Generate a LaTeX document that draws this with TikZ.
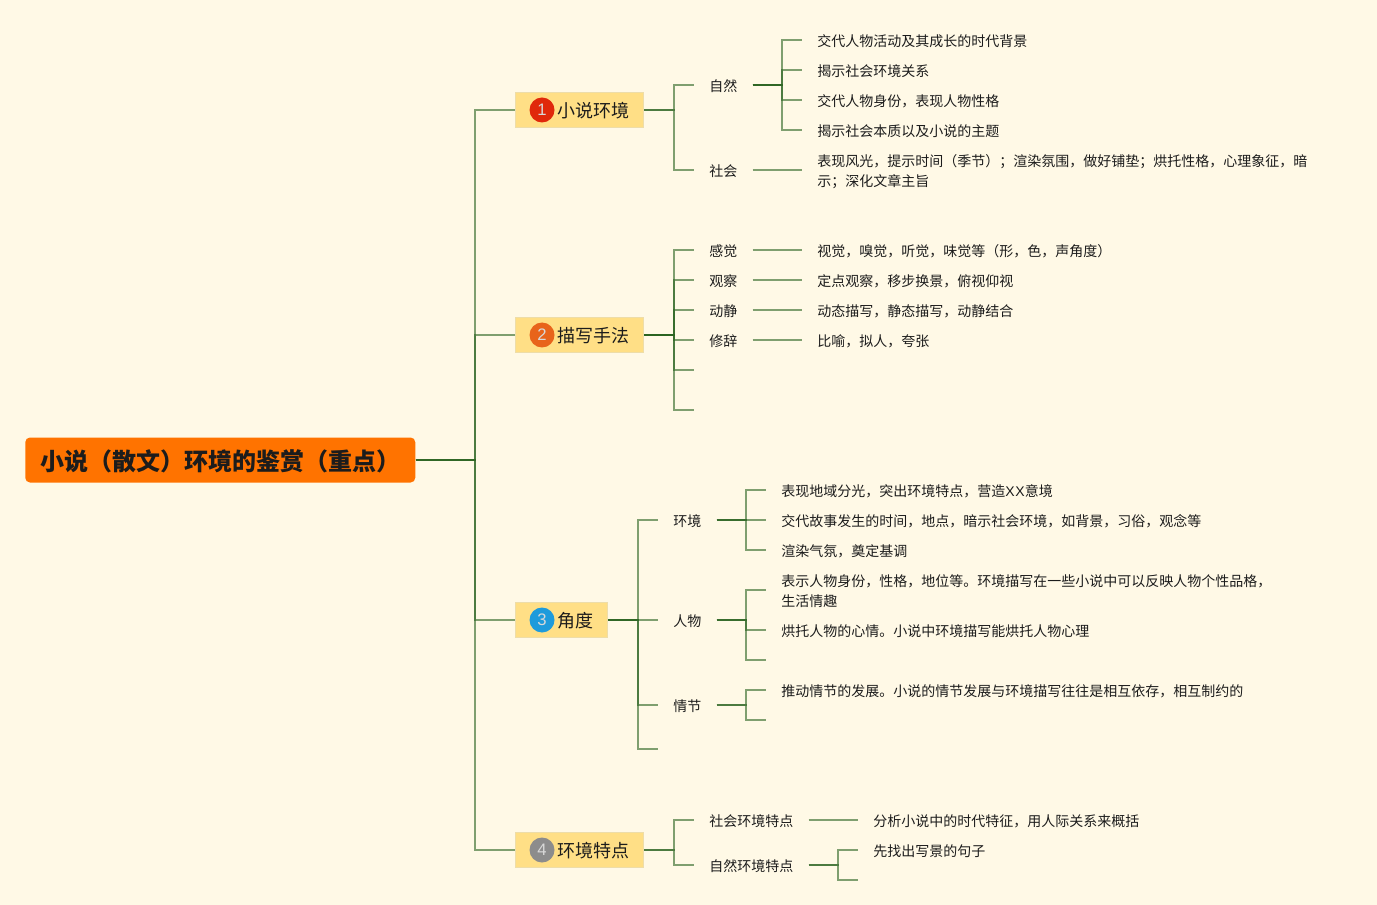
\documentclass[tikz,border=0pt]{standalone}
\usepackage{fontspec}
\setmainfont{Noto Sans CJK SC}
\newfontfamily\numfont{Liberation Sans}
\definecolor{Cpaper}{HTML}{FFF9E6}
\definecolor{Cbranch}{HTML}{2B6421}
\definecolor{Cinktext}{HTML}{1C1C1C}
\definecolor{Croot}{HTML}{FF7300}
\definecolor{Ctopic}{HTML}{FFDF86}
\definecolor{Ctopicedge}{HTML}{EEDDA8}
\definecolor{Cbadgered}{HTML}{E0280B}
\definecolor{Cbadgeorange}{HTML}{E8641B}
\definecolor{Cbadgeblue}{HTML}{1E9BDC}
\definecolor{Cbadgegrey}{HTML}{8C8C8C}
\newcommand{\lstrut}{\rule[-2.5pt]{0pt}{14.5pt}}
\newcommand{\ltop}{\rule{0pt}{12.5pt}}
\newcommand{\badgegap}{\hspace*{20.25pt}}
\tikzset{
	lnk/.style={line width=1.1pt,Cbranch,draw opacity=0.6},
	rootbox/.style={anchor=west,fill=Croot,rounded corners=3.5pt,minimum height=33.75pt,inner xsep=11.25pt,inner ysep=0pt,text=Cinktext,font=\fontsize{18}{22}\selectfont\bfseries,execute at begin node=\rule[-2pt]{0pt}{20pt}},
	topic/.style={anchor=west,fill=Ctopic,draw=Ctopicedge,line width=0.8pt,minimum height=26.5pt,inner xsep=11pt,inner ysep=0pt,text=Cinktext,font=\fontsize{13.5}{18}\selectfont,execute at begin node=\rule[-2.2pt]{0pt}{16.2pt}},
	badge/.style={circle,inner sep=0pt,minimum size=18.75pt,text=white!85!black,font=\numfont\fontsize{12.5}{14}\selectfont},
	kid/.style={anchor=west,inner xsep=11.25pt,inner ysep=0pt,text=Cinktext,font=\fontsize{10.5}{15}\selectfont,execute at begin node=\lstrut},
	leaf/.style={kid,align=left},
}
\begin{document}
\begin{tikzpicture}[x=0.75pt,y=-0.75pt]
	\useasboundingbox (0,0) rectangle (1377,905);
	\fill[Cpaper] (0,0) rectangle (1377,905);

	\node[rootbox] (root) at (25,460) {小说（散文）环境的鉴赏（重点）};

	% first topic
	\node[topic] (natural) at (515,110) {\badgegap 小说环境};
	\node[badge,fill=Cbadgered] (b1) at (542,110) {1};
	\node[kid] (ziran) at (694,85) {自然};
	\node[kid] (shehui) at (694,170) {社会};
	\node[leaf] (z1) at (802,40) {交代人物活动及其成长的时代背景};
	\node[leaf] (z2) at (802,70) {揭示社会环境关系};
	\node[leaf] (z3) at (802,100) {交代人物身份，表现人物性格};
	\node[leaf] (z4) at (802,130) {揭示社会本质以及小说的主题};
	\node[leaf] (s1) at (802,170) {\ltop 表现风光，提示时间（季节）；渲染氛围，做好铺垫；烘托性格，心理象征，暗\\\lstrut 示；深化文章主旨};

	% second topic
	\node[topic] (method) at (515,335) {\badgegap 描写手法};
	\node[badge,fill=Cbadgeorange] (b2) at (542,335) {2};
	\node[kid] (ganjue) at (694,250) {感觉};
	\node[kid] (guancha) at (694,280) {观察};
	\node[kid] (dongjing) at (694,310) {动静};
	\node[kid] (xiuci) at (694,340) {修辞};
	\coordinate (m5) at (694,370);
	\coordinate (m6) at (694,410);
	\node[leaf] (g1) at (802,250) {视觉，嗅觉，听觉，味觉等（形，色，声角度）};
	\node[leaf] (g2) at (802,280) {定点观察，移步换景，俯视仰视};
	\node[leaf] (g3) at (802,310) {动态描写，静态描写，动静结合};
	\node[leaf] (g4) at (802,340) {比喻，拟人，夸张};

	% third topic
	\node[topic] (angle) at (515,620) {\badgegap 角度};
	\node[badge,fill=Cbadgeblue] (b3) at (542,620) {3};
	\node[kid] (huanjing) at (658,520) {环境};
	\node[kid] (renwu) at (658,620) {人物};
	\node[kid] (qingjie) at (658,705) {情节};
	\coordinate (a4) at (658,749);
	\node[leaf] (h1) at (766,490) {表现地域分光，突出环境特点，营造{\numfont X\kern0.6pt X}意境};
	\node[leaf] (h2) at (766,520) {交代故事发生的时间，地点，暗示社会环境，如背景，习俗，观念等};
	\node[leaf] (h3) at (766,550) {渲染气氛，奠定基调};
	\node[leaf] (r1) at (766,590) {\ltop 表示人物身份，性格，地位等。环境描写在一些小说中可以反映人物个性品格，\\\lstrut 生活情趣};
	\node[leaf] (r2) at (766,630) {烘托人物的心情。小说中环境描写能烘托人物心理};
	\coordinate (r3) at (766,660);
	\node[leaf] (q1) at (766,690) {推动情节的发展。小说的情节发展与环境描写往往是相互依存，相互制约的};
	\coordinate (q2) at (766,720);

	% fourth topic
	\node[topic] (feature) at (515,850) {\badgegap 环境特点};
	\node[badge,fill=Cbadgegrey] (b4) at (542,850) {4};
	\node[kid] (shte) at (694,820) {社会环境特点};
	\node[kid] (zrte) at (694,865) {自然环境特点};
	\node[leaf] (t1) at (858,820) {分析小说中的时代特征，用人际关系来概括};
	\node[leaf] (t2) at (858,850) {先找出写景的句子};
	\coordinate (t3) at (858,880);

	\draw[lnk] (root.east) -- ++(59.4,0) |- (natural.west);
	\draw[lnk] (root.east) -- ++(59.4,0) |- (method.west);
	\draw[lnk] (root.east) -- ++(59.4,0) |- (angle.west);
	\draw[lnk] (root.east) -- ++(59.4,0) |- (feature.west);

	\draw[lnk] (natural.east) -- ++(29.5,0) |- (ziran.west);
	\draw[lnk] (natural.east) -- ++(29.5,0) |- (shehui.west);
	\draw[lnk] (ziran.east) -- ++(29.3,0) |- (z1.west);
	\draw[lnk] (ziran.east) -- ++(29.3,0) |- (z2.west);
	\draw[lnk] (ziran.east) -- ++(29.3,0) |- (z3.west);
	\draw[lnk] (ziran.east) -- ++(29.3,0) |- (z4.west);
	\draw[lnk] (shehui.east) -- (s1.west);

	\draw[lnk] (method.east) -- ++(29.5,0) |- (ganjue.west);
	\draw[lnk] (method.east) -- ++(29.5,0) |- (guancha.west);
	\draw[lnk] (method.east) -- ++(29.5,0) |- (dongjing.west);
	\draw[lnk] (method.east) -- ++(29.5,0) |- (xiuci.west);
	\draw[lnk] (method.east) -- ++(29.5,0) |- (m5);
	\draw[lnk] (method.east) -- ++(29.5,0) |- (m6);
	\draw[lnk] (ganjue.east) -- (g1.west);
	\draw[lnk] (guancha.east) -- (g2.west);
	\draw[lnk] (dongjing.east) -- (g3.west);
	\draw[lnk] (xiuci.east) -- (g4.west);

	\draw[lnk] (angle.east) -- ++(29.5,0) |- (huanjing.west);
	\draw[lnk] (angle.east) -- ++(29.5,0) |- (renwu.west);
	\draw[lnk] (angle.east) -- ++(29.5,0) |- (qingjie.west);
	\draw[lnk] (angle.east) -- ++(29.5,0) |- (a4);
	\draw[lnk] (huanjing.east) -- ++(29.3,0) |- (h1.west);
	\draw[lnk] (huanjing.east) -- ++(29.3,0) |- (h2.west);
	\draw[lnk] (huanjing.east) -- ++(29.3,0) |- (h3.west);
	\draw[lnk] (renwu.east) -- ++(29.3,0) |- (r1.west);
	\draw[lnk] (renwu.east) -- ++(29.3,0) |- (r2.west);
	\draw[lnk] (renwu.east) -- ++(29.3,0) |- (r3);
	\draw[lnk] (qingjie.east) -- ++(29.3,0) |- (q1.west);
	\draw[lnk] (qingjie.east) -- ++(29.3,0) |- (q2);

	\draw[lnk] (feature.east) -- ++(29.5,0) |- (shte.west);
	\draw[lnk] (feature.east) -- ++(29.5,0) |- (zrte.west);
	\draw[lnk] (shte.east) -- (t1.west);
	\draw[lnk] (zrte.east) -- ++(29.3,0) |- (t2.west);
	\draw[lnk] (zrte.east) -- ++(29.3,0) |- (t3);
\end{tikzpicture}
\end{document}
